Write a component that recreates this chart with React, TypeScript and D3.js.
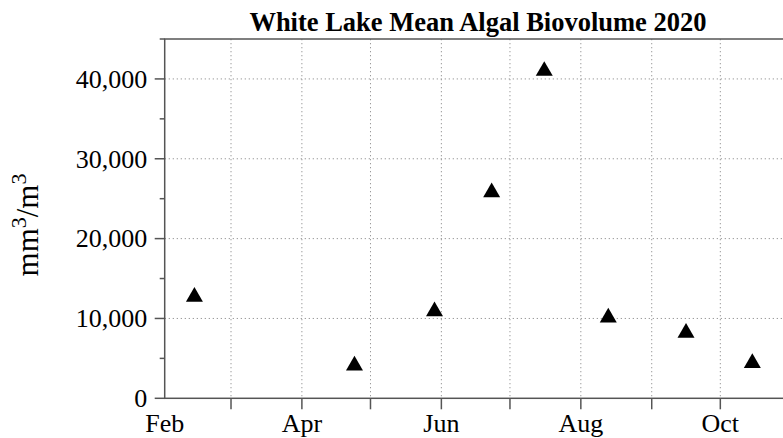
import React, { useEffect, useRef } from 'react'
import * as d3 from 'd3'

// sampling dates and mean algal biovolume (mm3/m3)
const sampleDates = [
  '2020-02-14',
  '2020-04-24',
  '2020-05-29',
  '2020-06-23',
  '2020-07-16',
  '2020-08-13',
  '2020-09-16',
  '2020-10-15',
]
const biovolume = [12700, 4100, 10900, 25800, 41000, 10100, 8200, 4400]

const yMajorTicks = [0, 10000, 20000, 30000, 40000]
const yMinorTicks = [5000, 15000, 25000, 35000, 45000]
const xLabelDates = ['2020-02-01', '2020-04-01', '2020-06-01', '2020-08-01', '2020-10-01']
const xDomain = ['2020-02-01', '2020-11-01']

const title = 'White Lake Mean Algal Biovolume 2020'
const font = '"Liberation Serif", "Times New Roman", serif'

export default function App() {
  const ref = useRef<SVGSVGElement>(null)

  useEffect(() => {
    const width = 783,
      height = 438
    const left = 164.7,
      right = 791.2,
      top = 39,
      bottom = 398.3

    const parse = d3.timeParse('%Y-%m-%d')
    const x = d3
      .scaleTime()
      .domain(xDomain.map((d) => parse(d) as Date))
      .range([left, right])
    const y = d3.scaleLinear().domain([0, 45000]).range([bottom, top])

    const svg = d3.select(ref.current)
    svg.selectAll('*').remove()
    svg.attr('width', width).attr('height', height)

    const gridMonths = d3.timeMonth.range(
      d3.timeMonth.offset(x.domain()[0], 1),
      x.domain()[1]
    )

    // dotted grid
    svg
      .append('g')
      .selectAll('line')
      .data(gridMonths)
      .enter()
      .append('line')
      .attr('x1', (d) => x(d))
      .attr('x2', (d) => x(d))
      .attr('y1', top)
      .attr('y2', bottom)
      .attr('stroke', '#9a9a9a')
      .attr('stroke-dasharray', '1.3,2.7')

    svg
      .append('g')
      .selectAll('line')
      .data(yMajorTicks.filter((d) => d > 0))
      .enter()
      .append('line')
      .attr('x1', left)
      .attr('x2', right)
      .attr('y1', (d) => y(d))
      .attr('y2', (d) => y(d))
      .attr('stroke', '#9a9a9a')
      .attr('stroke-dasharray', '1.3,2.7')

    // box
    svg
      .append('rect')
      .attr('x', left)
      .attr('y', top)
      .attr('width', right - left)
      .attr('height', bottom - top)
      .attr('fill', 'none')
      .attr('stroke', '#555')
      .attr('stroke-width', 1.5)

    // y ticks
    svg
      .append('g')
      .selectAll('line')
      .data(yMajorTicks)
      .enter()
      .append('line')
      .attr('x1', left - 10)
      .attr('x2', left)
      .attr('y1', (d) => y(d))
      .attr('y2', (d) => y(d))
      .attr('stroke', '#555')
      .attr('stroke-width', 1.5)

    svg
      .append('g')
      .selectAll('line')
      .data(yMinorTicks)
      .enter()
      .append('line')
      .attr('x1', left - 5)
      .attr('x2', left)
      .attr('y1', (d) => y(d))
      .attr('y2', (d) => y(d))
      .attr('stroke', '#555')
      .attr('stroke-width', 1.5)

    svg
      .append('g')
      .selectAll('text')
      .data(yMajorTicks)
      .enter()
      .append('text')
      .attr('x', left - 17.5)
      .attr('y', (d) => y(d))
      .attr('dy', '0.34em')
      .attr('text-anchor', 'end')
      .attr('font-family', font)
      .attr('font-size', 26)
      .text((d) => d3.format(',')(d))

    // x ticks
    svg
      .append('g')
      .selectAll('line')
      .data(gridMonths)
      .enter()
      .append('line')
      .attr('x1', (d) => x(d))
      .attr('x2', (d) => x(d))
      .attr('y1', bottom)
      .attr('y2', bottom + 11)
      .attr('stroke', '#555')
      .attr('stroke-width', 1.5)

    svg
      .append('g')
      .selectAll('text')
      .data(xLabelDates.map((d) => parse(d) as Date))
      .enter()
      .append('text')
      .attr('x', (d) => x(d))
      .attr('y', 431.5)
      .attr('text-anchor', 'middle')
      .attr('font-family', font)
      .attr('font-size', 26)
      .text((d) => d3.timeFormat('%b')(d))

    // points
    const tri = d3.symbol().type(d3.symbolTriangle).size(125)
    svg
      .append('g')
      .selectAll('path')
      .data(sampleDates.map((d, i) => ({ date: parse(d) as Date, value: biovolume[i] })))
      .enter()
      .append('path')
      .attr('d', tri)
      .attr('transform', (d) => 'translate(' + x(d.date) + ',' + y(d.value) + ')')
      .attr('fill', '#000')

    // title
    svg
      .append('text')
      .attr('x', (left + right) / 2)
      .attr('y', 31)
      .attr('text-anchor', 'middle')
      .attr('font-family', font)
      .attr('font-weight', 'bold')
      .attr('font-size', 26.5)
      .text(title)

    // y label
    const ylab = svg
      .append('text')
      .attr('transform', 'translate(38.3,225) rotate(-90)')
      .attr('text-anchor', 'middle')
      .attr('font-family', font)
      .attr('font-size', 31)
    ylab.append('tspan').text('mm')
    ylab.append('tspan').attr('dy', -12).attr('font-size', 22).text('3')
    ylab.append('tspan').attr('dy', 12).text('/m')
    ylab.append('tspan').attr('dy', -12).attr('font-size', 22).text('3')
  }, [])

  return (
    <svg
      ref={ref}
      style={{ position: 'absolute', left: 0, top: 0, display: 'block', background: '#fff' }}
    />
  )
}
